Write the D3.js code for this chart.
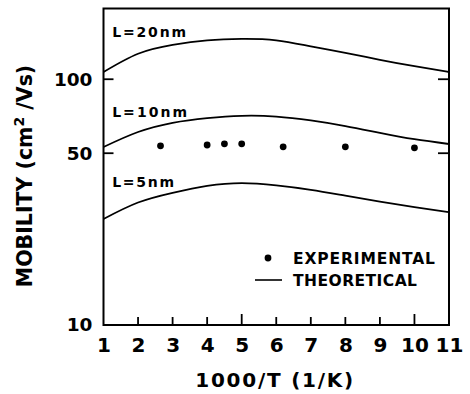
<!DOCTYPE html>
<html>
<head>
<meta charset="utf-8">
<script src="https://cdn.jsdelivr.net/npm/d3@7"></script>
<style>
  body { margin: 0; background: #fff; }
  svg text { font-family: "DejaVu Sans", sans-serif; font-weight: bold; fill: #000; }
</style>
</head>
<body>
<svg id="chart" width="470" height="394"></svg>
<script>
// values
const tempX = [1, 2, 3, 4, 5, 6, 7, 8, 9, 10, 11]
const mob20 = [107, 127, 138, 144, 146, 144, 136, 128, 120, 113, 107]
const mob10 = [53, 61, 66.5, 69.5, 71, 70.5, 68, 64.5, 60.5, 57, 54.5]
const mob5 = [27, 31.5, 34.5, 36.8, 37.8, 37, 35.5, 33.6, 31.8, 30.2, 28.8]
const expX = [2.65, 4, 4.5, 5, 6.2, 8, 10]
const expY = [53.6, 54, 54.6, 54.6, 53.1, 53.1, 52.6]
const xTicks = [1, 2, 3, 4, 5, 6, 7, 8, 9, 10, 11]
const yTicks = [10, 50, 100]
const curveLabels = ["L=20nm", "L=10nm", "L=5nm"]

const margin = {top: 8.5, right: 21, bottom: 69, left: 103.5},
    width = 470 - margin.left - margin.right,
    height = 394 - margin.top - margin.bottom

const svg = d3.select("#chart")

const fx = d3.scaleLinear().domain([1, 11]).range([margin.left, margin.left + width])
const fy = d3.scaleLog().domain([10, 194]).range([margin.top + height, margin.top])

const line = d3.line()
    .x(d => fx(d[0]))
    .y(d => fy(d[1]))
    .curve(d3.curveNatural)

const series = [mob20, mob10, mob5]
series.forEach(s => {
    svg.append("path")
        .datum(tempX.map((x, i) => [x, s[i]]))
        .attr("fill", "none")
        .attr("stroke", "#000")
        .attr("stroke-width", 1.8)
        .attr("d", line)
})

// curve labels, placed above the left end of each curve
const labelY = [149, 70, 36.5]
const labelW = [74, 75, 62]
curveLabels.forEach((t, i) => {
    svg.append("text")
        .attr("x", fx(1.25))
        .attr("y", fy(labelY[i]))
        .attr("font-size", 14)
        .attr("textLength", labelW[i])
        .attr("lengthAdjust", "spacing")
        .text(t)
})

svg.selectAll("circle.exp")
    .data(expX.map((x, i) => [x, expY[i]]))
    .join("circle")
    .attr("class", "exp")
    .attr("cx", d => fx(d[0]))
    .attr("cy", d => fy(d[1]))
    .attr("r", 3.4)
    .attr("fill", "#000")

// frame
svg.append("rect")
    .attr("x", margin.left)
    .attr("y", margin.top)
    .attr("width", width)
    .attr("height", height)
    .attr("fill", "none")
    .attr("stroke", "#000")
    .attr("stroke-width", 2)

// bottom axis, ticks inward
const xAxis = svg.append("g")
    .attr("transform", "translate(0," + (margin.top + height) + ")")
    .call(d3.axisBottom(fx).tickValues(xTicks).tickSize(0).tickPadding(13))
xAxis.select(".domain").remove()
xAxis.selectAll("text").attr("font-size", 20).attr("font-family", null)
xAxis.selectAll("line").remove()
xTicks.slice(1, -1).forEach(t => {
    svg.append("line")
        .attr("x1", fx(t)).attr("x2", fx(t))
        .attr("y1", margin.top + height)
        .attr("y2", margin.top + height - (t % 5 == 0 ? 11 : 8))
        .attr("stroke", "#000").attr("stroke-width", 1.8)
})

// left axis
const yAxis = svg.append("g")
    .attr("transform", "translate(" + margin.left + ",0)")
    .call(d3.axisLeft(fy).tickValues(yTicks).tickFormat(d3.format("d")).tickSize(0).tickPadding(11))
yAxis.select(".domain").remove()
yAxis.selectAll("line").remove()
yAxis.selectAll("text").attr("font-size", 18.5).attr("font-family", null)

yTicks.slice(1).forEach(t => {
    svg.append("line")
        .attr("x1", margin.left).attr("x2", margin.left + 10)
        .attr("y1", fy(t)).attr("y2", fy(t))
        .attr("stroke", "#000").attr("stroke-width", 1.8)
    svg.append("line")
        .attr("x1", margin.left + width - 11).attr("x2", margin.left + width)
        .attr("y1", fy(t)).attr("y2", fy(t))
        .attr("stroke", "#000").attr("stroke-width", 1.8)
})

// axis titles
svg.append("text")
    .attr("x", fx(6) - 2)
    .attr("y", 387)
    .attr("text-anchor", "middle")
    .attr("font-size", 20)
    .attr("textLength", 158)
    .attr("lengthAdjust", "spacing")
    .text("1000/T (1/K)")

const yt = svg.append("text")
    .attr("transform", "translate(32,176) rotate(-90)")
    .attr("text-anchor", "middle")
    .attr("font-size", 20.5)
yt.append("tspan").text("MOBILITY (cm")
yt.append("tspan").attr("font-size", 14).attr("dy", -8).text("2")
yt.append("tspan").attr("dy", 8).text(" /Vs)")

// legend
svg.append("circle")
    .attr("cx", 268).attr("cy", 258).attr("r", 3.4).attr("fill", "#000")
svg.append("text")
    .attr("x", 293).attr("y", 264)
    .attr("font-size", 15.5)
    .attr("textLength", 142).attr("lengthAdjust", "spacing")
    .text("EXPERIMENTAL")
svg.append("line")
    .attr("x1", 255).attr("x2", 282).attr("y1", 280).attr("y2", 280)
    .attr("stroke", "#000").attr("stroke-width", 1.6)
svg.append("text")
    .attr("x", 293).attr("y", 286)
    .attr("font-size", 15.5)
    .attr("textLength", 124).attr("lengthAdjust", "spacing")
    .text("THEORETICAL")
</script>
</body>
</html>
